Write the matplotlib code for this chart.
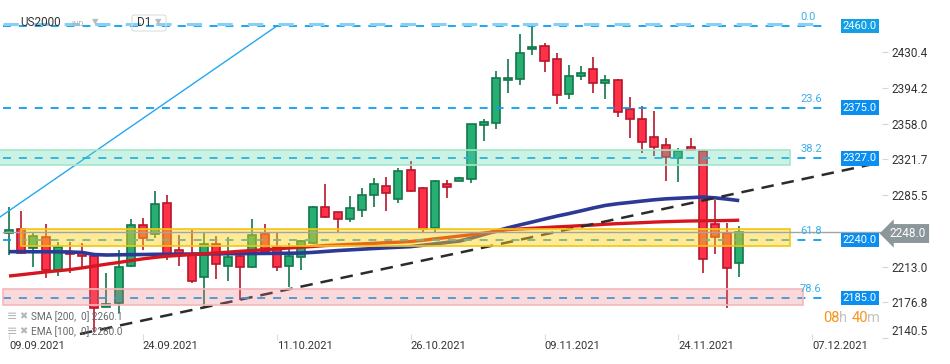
import numpy as np
import matplotlib.pyplot as plt
from matplotlib.patches import Rectangle, FancyBboxPatch
import matplotlib.transforms as mtransforms

plt.rcParams['font.family'] = ['Roboto', 'DejaVu Sans']

# US2000 daily candles, 09.09.2021 .. 01.12.2021
opens = [2247.5, 2250.9, 2231.6, 2242.8, 2209.6, 2227.1, 2226.5, 2223.8, 2172.5, 2176.4,
         2214.0, 2255.2, 2245.8, 2277.2, 2229.9, 2225.8, 2202.8, 2235.6, 2213.9, 2223.8,
         2213.0, 2246.1, 2233.2, 2213.9, 2223.1, 2237.3, 2273.8, 2268.1, 2261.0, 2270.2,
         2285.4, 2294.5, 2281.3, 2310.7, 2292.4, 2252.5, 2296.5, 2300.2, 2301.6, 2356.4,
         2358.4, 2402.0, 2403.0, 2433.4, 2436.5, 2423.3, 2387.8, 2406.1, 2413.2, 2399.0,
         2402.0, 2372.6, 2362.4, 2344.2, 2336.1, 2323.5, 2334.1, 2330.3, 2255.9, 2246.8,
         2216.4]
highs = [2273.2, 2269.7, 2248.5, 2256.3, 2238.3, 2237.7, 2236.7, 2224.5, 2207.0, 2229.9,
         2261.3, 2262.0, 2289.7, 2285.6, 2245.1, 2250.2, 2246.8, 2244.1, 2242.8, 2227.0,
         2261.3, 2256.3, 2248.0, 2236.7, 2240.1, 2275.0, 2296.8, 2268.5, 2284.6, 2292.8,
         2302.9, 2303.9, 2313.3, 2320.1, 2294.0, 2300.9, 2300.9, 2303.9, 2357.6, 2362.4,
         2411.4, 2423.6, 2449.0, 2459.1, 2439.5, 2429.4, 2417.2, 2416.5, 2425.3, 2407.1,
         2403.0, 2384.8, 2375.9, 2370.9, 2343.8, 2333.0, 2343.8, 2331.0, 2280.6, 2257.6,
         2254.2]
lows = [2224.8, 2226.0, 2213.0, 2201.2, 2203.5, 2206.9, 2210.6, 2147.0, 2172.0, 2166.3,
        2213.0, 2229.9, 2241.7, 2220.0, 2213.6, 2196.8, 2172.0, 2200.5, 2198.8, 2179.2,
        2212.0, 2226.0, 2208.9, 2192.6, 2209.6, 2236.0, 2262.0, 2247.4, 2258.6, 2263.6,
        2273.8, 2269.8, 2277.9, 2289.0, 2247.4, 2248.4, 2283.0, 2300.0, 2298.0, 2340.7,
        2352.9, 2389.4, 2397.6, 2428.0, 2410.1, 2377.6, 2383.4, 2402.0, 2389.4, 2383.4,
        2365.1, 2343.8, 2327.9, 2325.5, 2300.2, 2299.2, 2331.0, 2206.2, 2225.5, 2170.7,
        2202.8]
closes = [2250.3, 2226.5, 2244.1, 2209.6, 2232.6, 2225.5, 2224.1, 2170.7, 2175.5, 2213.0,
          2255.2, 2241.7, 2276.5, 2225.0, 2224.8, 2198.8, 2235.6, 2215.4, 2222.5, 2212.3,
          2244.8, 2228.2, 2213.0, 2223.8, 2238.7, 2273.8, 2263.0, 2261.0, 2272.2, 2285.4,
          2296.5, 2287.4, 2309.7, 2290.1, 2251.2, 2299.5, 2294.1, 2302.6, 2357.4, 2359.7,
          2404.0, 2404.0, 2429.4, 2435.5, 2421.3, 2386.8, 2406.1, 2409.1, 2399.0, 2402.0,
          2369.6, 2362.4, 2339.7, 2334.1, 2324.5, 2330.3, 2331.6, 2220.4, 2242.8, 2211.3,
          2248.0]

# moving averages (red = SMA 200, blue = EMA 100)
sma200 = [2203.5, 2204.8, 2206.2, 2207.6, 2208.8, 2210.0, 2211.7, 2213.6, 2215.5, 2217.2,
          2219.1, 2220.9, 2222.4, 2223.6, 2224.4, 2225.2, 2226.0, 2226.9, 2227.7, 2228.6,
          2229.4, 2230.2, 2231.0, 2231.9, 2232.7, 2233.5, 2234.4, 2235.0, 2235.6, 2236.1,
          2236.7, 2237.3, 2237.8, 2238.5, 2239.7, 2241.2, 2242.6, 2244.0, 2245.4, 2247.0,
          2248.6, 2250.6, 2251.2, 2251.9, 2252.6, 2253.3, 2253.9, 2254.6, 2255.2, 2256.0,
          2256.6, 2257.1, 2257.6, 2258.2, 2258.6, 2259.0, 2259.3, 2259.5, 2259.6, 2259.8,
          2260.1]
ema100 = [2228.2, 2228.2, 2228.1, 2228.1, 2228.0, 2227.9, 2227.4, 2225.3, 2224.8, 2225.0,
          2225.2, 2225.3, 2225.5, 2225.6, 2225.7, 2225.8, 2225.9, 2226.0, 2226.1, 2226.2,
          2226.3, 2226.4, 2226.5, 2226.6, 2226.8, 2227.5, 2228.4, 2229.3, 2230.0, 2230.7,
          2231.4, 2232.1, 2232.7, 2233.3, 2234.7, 2236.1, 2237.6, 2238.9, 2242.0, 2245.5,
          2249.0, 2252.4, 2255.4, 2258.3, 2261.3, 2264.2, 2266.8, 2269.6, 2272.5, 2275.1,
          2276.8, 2278.1, 2279.5, 2280.8, 2281.8, 2282.4, 2283.0, 2283.6, 2282.8, 2281.5,
          2280.0]

date_ticks = [0, 11, 22, 33, 44, 55, 66]
date_labels = ['09.09.2021', '24.09.2021', '11.10.2021', '26.10.2021',
               '09.11.2021', '24.11.2021', '07.12.2021']
price_ticks = [2140.5, 2176.8, 2213.0, 2285.5, 2321.7, 2358.0, 2394.2, 2430.4]

# fibonacci retracement
fib_names = ['0.0', '23.6', '38.2', '61.8', '78.6']
fib_levels = [2457.0, 2374.2, 2322.9, 2240.1, 2181.1]
fib_tags = ['2460.0', '2375.0', '2327.0', '2240.0', '2185.0']
fib_tag_colors = ['#129fe6', '#0a8ff0', '#0a8ff0', '#0a8ff0', '#0a8ff0']

# zones: (low, high, x start, x end, fill, edge)
zone_yellow = (2233.9, 2250.9, 1.0, 64.2, (1.0, 0.82, 0.08, 0.45), '#f4c517')
zone_green = (2316.4, 2331.0, -0.8, 64.2, (0.39, 0.86, 0.70, 0.33), '#a4e6cc')
zone_pink = (2174.4, 2190.3, -0.5, 65.2, (0.94, 0.47, 0.51, 0.28), '#f5b8b8')

last_price = 2248.0

fig = plt.figure(figsize=(9.5, 3.64), dpi=100)
ax = fig.add_axes([0, 24 / 364, 882 / 950, 340 / 364])
ax.set_xlim(-0.74, 71.73)
ax.set_ylim(2138.6, 2483.44)
for s in ax.spines.values():
    s.set_visible(False)

# candles
x = np.arange(len(opens))
o = np.array(opens); h = np.array(highs); l = np.array(lows); c = np.array(closes)
up = c >= o
body_col = np.where(up, '#26ae73', '#ff3148')
edge_col = np.where(up, '#12774a', '#b5172c')
ax.vlines(x, l, h, colors=edge_col, linewidth=1.2, zorder=2)
ax.bar(x, np.maximum(np.abs(c - o), 1.2), bottom=np.minimum(o, c), width=0.66,
       color=body_col, edgecolor=edge_col, linewidth=1.2, zorder=2.5)

# moving averages
ax.plot(x, ema100, color='#2d3996', lw=2.6, zorder=3, solid_capstyle='butt')
ax.plot(x, sma200, color='#d6161e', lw=2.4, zorder=3, solid_capstyle='butt')

# trend lines
ax.plot([-0.74, 22.0], [2263.4, 2457.0], color='#22a8f0', lw=1.0, zorder=3)
ax.plot([5.83, 71.4], [2144.7, 2318.1], color='#2b2b2b', lw=1.8,
        dashes=(5, 3.2), zorder=3)

# fib levels
for name, lvl, tag, tc in zip(fib_names, fib_levels, fib_tags, fib_tag_colors):
    ax.plot([-0.5, 67.3], [lvl, lvl], color='#0b9ff0', lw=1.3, dashes=(4.4, 4.4), zorder=3)
    ax.text(65.0, lvl + 9, name, color='#3aaee8', fontsize=8, ha='left', va='center', zorder=6)
    ax.text(0.975, lvl, tag, transform=mtransforms.blended_transform_factory(ax.transAxes, ax.transData),
            ha='center', va='center', color='white', fontsize=8, zorder=7,
            bbox=dict(boxstyle='square,pad=0.2', fc=tc, ec='none'))
# lighter double stroke on the top level
ax.plot([-0.5, 67.3], [fib_levels[0] + 2, fib_levels[0] + 2], color='#86d0f5', lw=2.2,
        dashes=(5, 5), zorder=3)

# zones (drawn over candles, semi transparent)
for lo, hi, x0, x1, fc, ec in [zone_yellow, zone_green, zone_pink]:
    ax.add_patch(Rectangle((x0, lo), x1 - x0, hi - lo, fc=fc, ec=ec, lw=1.2, zorder=4))

# current price line
ax.plot([-0.5, 71.73], [last_price, last_price], color='#a0a4a6', lw=1.0, zorder=5)

# axes ticks
ax.yaxis.tick_right()
ax.set_yticks(price_ticks, [f'{p:.1f}' for p in price_ticks])
ax.tick_params(axis='y', length=4, color='#d6d6d6', labelsize=8.5, labelcolor='#333333', pad=3)
ax.get_yticklabels()[0].set_va('bottom')
ax.set_xticks(date_ticks, date_labels)
ax.tick_params(axis='x', direction='in', length=4, color='#dcdcdc', labelsize=8,
               labelcolor='#333333', pad=1)
for lbl in ax.get_xticklabels():
    lbl.set_ha('left')

# last price tag
fig.text(908 / 950, 1 - 233.5 / 364, f'{last_price:.1f}', color='white', fontsize=8.5,
         ha='center', va='center',
         bbox=dict(boxstyle='larrow,pad=0.25', fc='#8c979c', ec='none'))

# header
fig.text(20 / 950, 1 - 23 / 364, 'US2000', fontsize=8.5, color='#333333', va='center')
fig.text(71 / 950, 1 - 24 / 364, 'IND', fontsize=5.5, color='#b0b0b0', va='center')
fig.text(92 / 950, 1 - 22 / 364, '\u25bc', fontsize=6, color='#bbbbbb', va='center',
         family='DejaVu Sans')
fig.patches.append(FancyBboxPatch((132 / 950, 1 - 31 / 364), 34 / 950, 16 / 364,
                                  boxstyle='round,pad=0,rounding_size=0.004',
                                  transform=fig.transFigure, fc='none', ec='#dddddd', lw=0.8))
fig.text(137 / 950, 1 - 23 / 364, 'D1', fontsize=8.5, color='#333333', va='center')
fig.text(155 / 950, 1 - 22 / 364, '\u25bc', fontsize=6, color='#bbbbbb', va='center',
         family='DejaVu Sans')

# indicator legend
for yy, txt in [(316.7, 'SMA [200,  0] 2260.1'), (331.7, 'EMA [100,  0] 2280.0')]:
    fig.text(7 / 950, 1 - yy / 364, '\u2261', fontsize=9, color='#b5b5b5', va='center',
             family='DejaVu Sans')
    fig.text(19 / 950, 1 - yy / 364, '\u2716', fontsize=7, color='#b5b5b5', va='center',
             family='DejaVu Sans')
    fig.text(31 / 950, 1 - yy / 364, txt, fontsize=7.2, color='#666666', va='center')

# candle countdown
for xx, txt, col in [(822.7, '08', '#f7941d'), (838.7, 'h', '#c3c3c3'),
                     (851.7, '40', '#f7941d'), (867.5, 'm', '#c3c3c3')]:
    fig.text(xx / 950, 1 - 318.5 / 364, txt, fontsize=10.5, color=col, va='center')

fig.savefig('out.png', dpi=100)
